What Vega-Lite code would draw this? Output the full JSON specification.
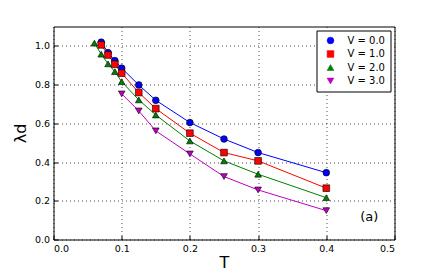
{
  "$schema": "https://vega.github.io/schema/vega-lite/v6.json",
  "autosize": "none",
  "width": 341,
  "height": 213,
  "padding": {"left": 53.5, "top": 26.5, "right": 41.5, "bottom": 33.5},
  "background": "white",
  "config": {
    "font": "DejaVu Sans",
    "view": {"stroke": "black", "strokeWidth": 1},
    "axis": {
      "grid": true,
      "gridColor": "black",
      "gridDash": [1, 3],
      "gridOpacity": 0.7,
      "gridWidth": 1,
      "domain": false,
      "tickColor": "black",
      "tickSize": -4,
      "labelPadding": 8,
      "labelFontSize": 9.5,
      "labelColor": "black",
      "titleFontWeight": "normal",
      "titleColor": "black",
      "titleFontSize": 16
    }
  },
  "data": {
    "values": [
      {"T": 0.07, "lam": 1.019, "V": "V = 0.0"},
      {"T": 0.08, "lam": 0.965, "V": "V = 0.0"},
      {"T": 0.09, "lam": 0.924, "V": "V = 0.0"},
      {"T": 0.1, "lam": 0.885, "V": "V = 0.0"},
      {"T": 0.125, "lam": 0.798, "V": "V = 0.0"},
      {"T": 0.15, "lam": 0.719, "V": "V = 0.0"},
      {"T": 0.2, "lam": 0.604, "V": "V = 0.0"},
      {"T": 0.25, "lam": 0.519, "V": "V = 0.0"},
      {"T": 0.3, "lam": 0.449, "V": "V = 0.0"},
      {"T": 0.4, "lam": 0.345, "V": "V = 0.0"},
      {"T": 0.07, "lam": 1.005, "V": "V = 1.0"},
      {"T": 0.08, "lam": 0.953, "V": "V = 1.0"},
      {"T": 0.09, "lam": 0.905, "V": "V = 1.0"},
      {"T": 0.1, "lam": 0.859, "V": "V = 1.0"},
      {"T": 0.125, "lam": 0.759, "V": "V = 1.0"},
      {"T": 0.15, "lam": 0.676, "V": "V = 1.0"},
      {"T": 0.2, "lam": 0.549, "V": "V = 1.0"},
      {"T": 0.25, "lam": 0.449, "V": "V = 1.0"},
      {"T": 0.3, "lam": 0.406, "V": "V = 1.0"},
      {"T": 0.4, "lam": 0.265, "V": "V = 1.0"},
      {"T": 0.06, "lam": 1.014, "V": "V = 2.0"},
      {"T": 0.07, "lam": 0.957, "V": "V = 2.0"},
      {"T": 0.08, "lam": 0.907, "V": "V = 2.0"},
      {"T": 0.09, "lam": 0.867, "V": "V = 2.0"},
      {"T": 0.1, "lam": 0.815, "V": "V = 2.0"},
      {"T": 0.125, "lam": 0.721, "V": "V = 2.0"},
      {"T": 0.15, "lam": 0.643, "V": "V = 2.0"},
      {"T": 0.2, "lam": 0.509, "V": "V = 2.0"},
      {"T": 0.25, "lam": 0.406, "V": "V = 2.0"},
      {"T": 0.3, "lam": 0.337, "V": "V = 2.0"},
      {"T": 0.4, "lam": 0.216, "V": "V = 2.0"},
      {"T": 0.1, "lam": 0.752, "V": "V = 3.0"},
      {"T": 0.125, "lam": 0.664, "V": "V = 3.0"},
      {"T": 0.15, "lam": 0.561, "V": "V = 3.0"},
      {"T": 0.2, "lam": 0.442, "V": "V = 3.0"},
      {"T": 0.25, "lam": 0.325, "V": "V = 3.0"},
      {"T": 0.3, "lam": 0.256, "V": "V = 3.0"},
      {"T": 0.4, "lam": 0.149, "V": "V = 3.0"}
    ]
  },
  "layer": [
    {
      "mark": {"type": "line", "strokeWidth": 1},
      "encoding": {
        "x": {"field": "T", "type": "quantitative", "scale": {"domain": [0, 0.5], "nice": false}, "axis": {"title": "T", "tickCount": 5, "format": ".1f", "titlePadding": 1}},
        "y": {"field": "lam", "type": "quantitative", "scale": {"domain": [0, 1.1], "nice": false}, "axis": {"title": "λd", "values": [0, 0.2, 0.4, 0.6, 0.8, 1.0], "format": ".1f", "titlePadding": 6}},
        "color": {"field": "V", "type": "nominal", "title": null, "scale": {"domain": ["V = 0.0", "V = 1.0", "V = 2.0", "V = 3.0"], "range": ["#0000ff", "#ff0000", "#008000", "#bf00bf"]},
          "legend": {"orient": "none", "legendX": 263, "legendY": 4, "strokeColor": "black", "fillColor": "white", "padding": 5, "labelFontSize": 10, "labelColor": "black", "symbolStrokeColor": "black", "symbolStrokeWidth": 0.6, "symbolOffset": 4, "labelOffset": 12, "rowPadding": 3.5, "symbolSize": 45, "cornerRadius": 0}},
        "order": {"field": "T"}
      }
    },
    {
      "mark": {"type": "point", "filled": true, "stroke": "black", "strokeWidth": 0.6, "size": 45, "opacity": 1},
      "encoding": {
        "x": {"field": "T", "type": "quantitative"},
        "y": {"field": "lam", "type": "quantitative"},
        "color": {"field": "V", "type": "nominal", "title": null},
        "shape": {"field": "V", "type": "nominal", "title": null, "scale": {"domain": ["V = 0.0", "V = 1.0", "V = 2.0", "V = 3.0"], "range": ["circle", "square", "triangle-up", "triangle-down"]}}
      }
    },
    {
      "data": {"values": [{"T": 0.463, "lam": 0.115, "label": "(a)"}]},
      "mark": {"type": "text", "fontSize": 13, "color": "black", "align": "center", "baseline": "middle"},
      "encoding": {
        "x": {"field": "T", "type": "quantitative"},
        "y": {"field": "lam", "type": "quantitative"},
        "text": {"field": "label"}
      }
    }
  ]
}
